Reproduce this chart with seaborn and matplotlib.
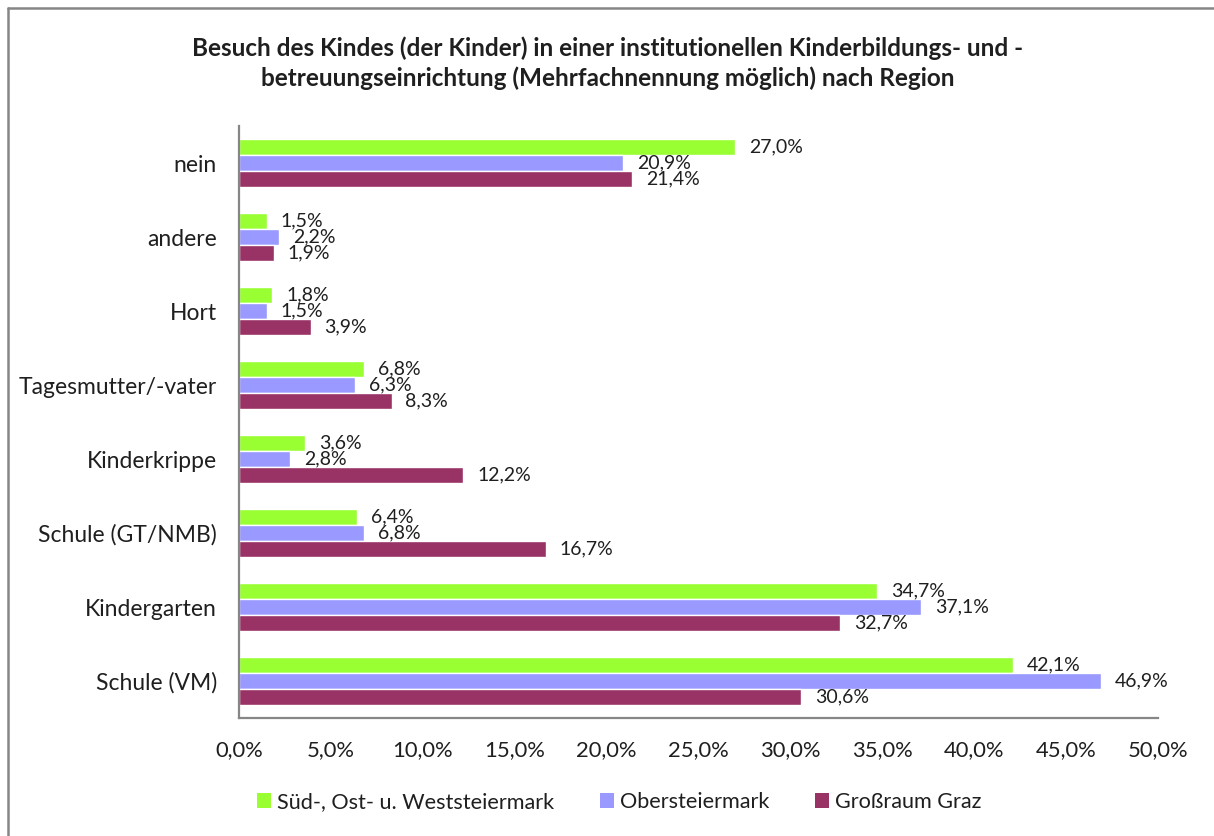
import matplotlib
matplotlib.use("Agg")
import matplotlib.pyplot as plt
import seaborn as sns
import pandas as pd
from matplotlib.lines import Line2D
from matplotlib.patches import Patch
from matplotlib.ticker import FuncFormatter

# Categories (top to bottom) and regional shares in percent
categories = ["nein", "andere", "Hort", "Tagesmutter/-vater", "Kinderkrippe",
              "Schule (GT/NMB)", "Kindergarten", "Schule (VM)"]
regions = ["Süd-, Ost- u. Weststeiermark", "Obersteiermark", "Großraum Graz"]
sued_ost_west = [27.0, 1.5, 1.8, 6.8, 3.6, 6.4, 34.7, 42.1]
obersteiermark = [20.9, 2.2, 1.5, 6.3, 2.8, 6.8, 37.1, 46.9]
grossraum_graz = [21.4, 1.9, 3.9, 8.3, 12.2, 16.7, 32.7, 30.6]
x_ticks = [0, 5, 10, 15, 20, 25, 30, 35, 40, 45, 50]

title = ("Besuch des Kindes (der Kinder) in einer institutionellen Kinderbildungs- und -\n"
         "betreuungseinrichtung (Mehrfachnennung möglich) nach Region")

colors = ["#99FF33", "#9999FF", "#993366"]
text_color = "#1f1f1f"
axis_color = "#868686"

series = [sued_ost_west, obersteiermark, grossraum_graz]
df = pd.DataFrame({
    "Kategorie": categories * len(regions),
    "Region": [r for r in regions for _ in categories],
    "Anteil": [v for s in series for v in s],
})

sns.set_theme(style="white")
plt.rcParams["font.family"] = ["Lato", "DejaVu Sans"]

W, H = 1214, 836
fig = plt.figure(figsize=(W / 100, H / 100), dpi=100)
ax = fig.add_axes([239 / W, 1 - 718 / H, (1158 - 239) / W, (718 - 126) / H])

sns.barplot(data=df, x="Anteil", y="Kategorie", hue="Region", order=categories,
            hue_order=regions, palette=colors, orient="h", width=0.66, gap=0,
            saturation=1, errorbar=None, legend=False, ax=ax)

def fmt(v):
    return f"{v:.1f}".replace(".", ",") + "%"

for cont, vals in zip(ax.containers, series):
    ax.bar_label(cont, labels=[fmt(v) for v in vals], padding=10,
                 fontsize=14, color=text_color)

ax.set_xlim(0, 50)
ax.set_xticks(x_ticks)
ax.xaxis.set_major_formatter(FuncFormatter(lambda v, p: fmt(v)))
ax.set_xlabel("")
ax.set_ylabel("")
ax.tick_params(axis="both", length=0, colors=text_color)
ax.tick_params(axis="x", pad=16, labelsize=15.8)
ax.tick_params(axis="y", pad=16, labelsize=16.5)
for side in ["top", "right"]:
    ax.spines[side].set_visible(False)
for side in ["left", "bottom"]:
    ax.spines[side].set_color(axis_color)
    ax.spines[side].set_linewidth(1.6)

fig.text(608 / W, 1 - 63 / H, title, ha="center", va="center", fontsize=17.5,
         fontweight="bold", color=text_color, linespacing=1.3)

handles = [Patch(facecolor=c, edgecolor="none", label=r) for c, r in zip(colors, regions)]
fig.legend(handles=handles, loc="center", bbox_to_anchor=(619 / W, 1 - 802 / H),
           ncol=3, frameon=False, fontsize=15.6, handlelength=0.65, handleheight=0.65,
           handletextpad=0.28, columnspacing=2.1, labelcolor=text_color)

# Chart frame
bx, by = 8 / W, 1 - 8 / H
fig.add_artist(Line2D([bx, bx], [0, by], transform=fig.transFigure, color=axis_color, lw=1.8))
fig.add_artist(Line2D([bx, 1], [by, by], transform=fig.transFigure, color=axis_color, lw=1.8))

fig.savefig("out.png", dpi=100, facecolor="white")
